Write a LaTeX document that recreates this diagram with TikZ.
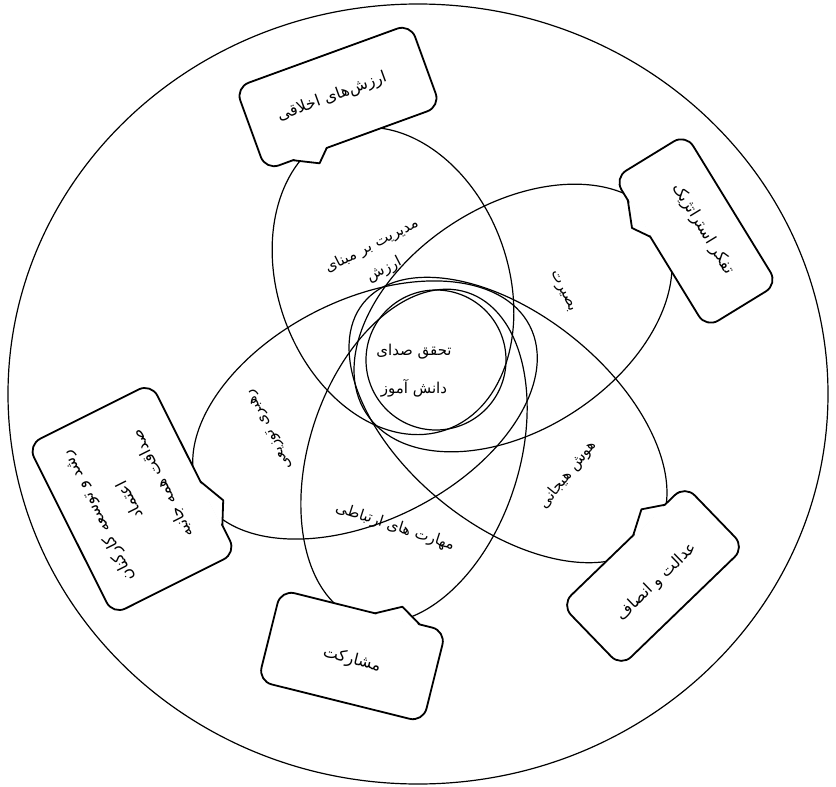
\documentclass[tikz,border=0pt]{standalone}
\usepackage{fontspec}
\newfontfamily\farsifont[Script=Arabic]{DejaVu Sans}
\TeXXeTstate=1

\newcommand{\fa}[1]{\beginR #1\endR}
% box with a short tail on its lower side: centre, angle, half width, half height, tail start, tip x, tip y, tail end
\newcommand{\callshape}[8]{%
  \begin{scope}[shift={#1}, rotate=#2, x=1pt, y=1pt]
    \draw[callline, rounded corners=14pt] (-#3,-#4) rectangle (#3,#4);
    \fill[white] (#5,-#4+1.6) -- (#6,#7) -- (#8,-#4+1.6) -- cycle;
    \draw[callline, line join=round] (#5,-#4) -- (#6,#7) -- (#8,-#4);
  \end{scope}}

\tikzset{
  petal/.style={draw=black, line width=1.2pt},
  petaltext/.style={align=center, inner sep=0pt, font=\farsifont\fontsize{15}{27}\selectfont},
  callline/.style={draw=black, line width=1.8pt, fill=white},
  calltext/.style={align=center, inner sep=0pt, font=\farsifont\fontsize{16}{36}\selectfont}
}

\begin{document}
\begin{tikzpicture}[x=1pt,y=-1pt]
\useasboundingbox (0,0) rectangle (836,787);

% outer ring
\draw[line width=1.2pt] (418,394) ellipse [x radius=410, y radius=390];

% petals
\coordinate (cvalue) at (393,281);
\coordinate (cinsight) at (513,318);
\coordinate (clead) at (365,410);
\coordinate (cemotion) at (508,420);
\coordinate (cskill) at (414,456);

\draw[petal, rotate around={110:(cvalue)}] (cvalue) ellipse [x radius=158, y radius=115];
\draw[petal, rotate around={33:(cinsight)}] (cinsight) ellipse [x radius=175, y radius=112];
\draw[petal, rotate around={27:(clead)}] (clead) ellipse [x radius=185, y radius=110];
\draw[petal, rotate around={-39:(cemotion)}] (cemotion) ellipse [x radius=186, y radius=105];
\draw[petal, rotate around={72:(cskill)}] (cskill) ellipse [x radius=172, y radius=105];

\node (core) at (436,360) [circle, petal, minimum size=140pt] {};

\begin{scope}[every node/.style={petaltext}]
    \node (tcore) at (414,371) [font=\farsifont\fontsize{15}{38}\selectfont] {\fa{تحقق صدای}\\\fa{دانش آموز}};
    \node (tvalue) at (378,258) [rotate=27] {\fa{مدیریت بر مبنای}\\\fa{ارزش}};
    \node (tinsight) at (562,292) [rotate=-64] {\fa{بصیرت}};
    \node (tlead) at (270,429) [rotate=117] {\fa{رهبری توزیعی}};
    \node (temotion) at (568,475) [rotate=51] {\fa{هوش هیجانی}};
    \node (tskill) at (395,527) [rotate=-18] {\fa{مهارت های ارتباطی}};
\end{scope}

% callouts
\callshape{(338,97)}{20}{93}{44}{-64}{-40}{-56}{-28}
\callshape{(696,231)}{-58.5}{88}{42}{-62}{-36}{-53}{-19}
\callshape{(132,499)}{116.6}{95}{69}{-64}{-42}{-81}{-15}
\callshape{(653,576)}{224}{86}{43}{-58}{-38}{-56}{-14}
\callshape{(352,656)}{166}{85}{47}{-58}{-37}{-60}{-12}

\begin{scope}[every node/.style={calltext}]
    \node (ethics) at (332,97) [rotate=20] {\fa{ارزش‌های اخلاقی}};
    \node (strategy) at (703,229) [rotate=-58.5] {\fa{تفکر استراتژیک}};
    \node (staff) at (130,500) [rotate=116.6]
        {\fa{رشد و توسعه کارکنان}\\\fa{اعتماد}\\\fa{صداقت همه جانبه}};
    \node (justice) at (657,582) [rotate=44] {\fa{عدالت و انصاف}};
    \node (share) at (352,660) [rotate=-14] {\fa{مشارکت}};
\end{scope}
\end{tikzpicture}
\end{document}
